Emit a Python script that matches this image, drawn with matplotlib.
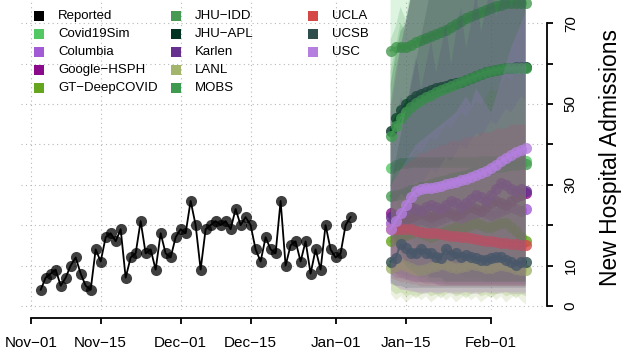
import datetime as dt
import matplotlib
matplotlib.use("Agg")
import matplotlib.pyplot as plt
import matplotlib.dates as mdates
from matplotlib.lines import Line2D

plt.rcParams['font.family'] = ['Liberation Sans', 'DejaVu Sans']

#---------------------------------------------------------------- DATA

# reported daily admissions, Nov-03 .. Jan-04
reported = [4, 7, 8, 9, 5, 7, 10, 12, 8, 5, 4, 14, 11, 17, 18, 16, 19, 7, 12, 13,
            21, 13, 14, 9, 18, 13, 12, 17, 19, 18, 26, 20, 9, 19, 20, 21, 20, 21,
            19, 24, 20, 22, 20, 14, 11, 17, 14, 13, 26, 10, 15, 16, 11, 16, 8, 14,
            9, 20, 14, 12, 13, 20, 22]
reported_start = dt.date(2020, 11, 3)
forecast_start = dt.date(2021, 1, 12)

# forecasts (median, lower, upper), 28 days from Jan-12
covid19sim_med = [34.1, 35, 35.4, 35.5, 35.6, 35.6, 35.6, 35.6, 35.6, 35.6, 35.6, 35.7, 35.7, 35.7,
                  35.7, 35.7, 35.7, 35.7, 35.8, 35.8, 35.8, 35.8, 35.8, 35.8, 35.8, 35.8, 35.8, 35.8]
covid19sim_lo = [9, 8, 8, 7, 7, 7, 6, 6, 6, 6, 6, 5, 5, 5,
                 5, 5, 5, 5, 5, 5, 5, 5, 5, 5, 5, 5, 5, 5]
covid19sim_hi = [88, 90, 92, 93, 94, 95, 96, 97, 98, 99, 100, 100, 101, 101,
                 102, 102, 103, 103, 104, 104, 105, 105, 106, 106, 107, 107, 108, 108]

columbia_med = [20.5, 20, 19.5, 20, 20.5, 21, 21.5, 21, 20.5, 21, 21.5, 22, 22.5, 22,
                21.5, 22, 22.5, 23, 23.5, 23, 22.5, 23, 23.5, 24, 24.5, 24, 23.5, 24]
columbia_lo = [6, 5, 4, 4, 3.5, 3.5, 3, 3, 3.5, 3, 3, 3.5, 3, 3,
               3, 3.5, 3, 3, 3, 3.5, 3, 3, 3, 3.5, 3, 3, 3, 3]
columbia_hi = [48, 56, 64, 70, 76, 82, 88, 90, 92, 94, 96, 98, 100, 102,
               104, 106, 108, 110, 112, 114, 116, 118, 120, 122, 124, 126, 128, 130]

google_med = [23, 22.5, 22, 21.5, 22, 22.5, 23, 22.5, 22, 22.5, 23, 23.5, 23, 22.5,
              23, 24, 24.5, 24, 23.5, 24.5, 25.5, 26, 25.5, 25, 26, 27, 27.5, 28]
google_lo = [9, 8, 7, 7, 6, 6, 6, 5.5, 5.5, 5.5, 5, 5, 5, 5,
             5, 5, 5, 5, 5, 5, 5, 5, 5, 5, 5, 5, 5, 5]
google_hi = [50, 58, 64, 70, 76, 82, 86, 90, 92, 94, 96, 98, 100, 102,
             104, 106, 108, 110, 112, 114, 116, 118, 120, 122, 124, 126, 128, 130]

gt_med = [16, 16.5, 17, 17.5, 18, 18.5, 18, 17.5, 17, 17.5, 18, 18.5, 19, 19.5,
          19, 19.5, 20, 20.5, 20, 19.5, 19.5, 20, 20.5, 20.5, 19.5, 18.5, 17, 16]
gt_lo = [4, 3, 3.5, 2.5, 3, 2, 3, 3.5, 2.5, 3, 2, 3, 3.5, 2.5,
         3, 2, 3, 3.5, 2.5, 3, 2, 3, 3.5, 2.5, 3, 2, 3, 2.5]
gt_hi = [32, 34, 36, 35, 37, 39, 38, 40, 42, 41, 43, 45, 44, 46,
         48, 47, 49, 51, 50, 52, 54, 53, 55, 57, 56, 58, 60, 59]

jhuidd_med = [63.2, 64, 64.2, 64.2, 64.5, 65.3, 65.9, 66.4, 66.9, 67.4, 67.9, 68.4, 69.1, 69.9,
              70.6, 71.2, 71.8, 72.3, 72.8, 73.3, 73.8, 74.3, 74.6, 75, 75, 75.1, 75.1, 75.1]
jhuidd_lo = [30, 26, 22, 19, 17, 15, 13, 12, 11, 10, 9, 9, 8, 8,
             8, 7, 7, 7, 7, 6, 6, 6, 6, 6, 6, 6, 6, 6]
jhuidd_hi = [66, 69, 74, 71, 78, 82, 84, 87, 90, 92, 94, 96, 98, 100,
             101, 102, 103, 104, 105, 106, 107, 108, 109, 110, 111, 112, 113, 114]
jhuidd2_med = [27.2, 27.5, 27.8, 28.2, 28.6, 29, 29.4, 29.8, 30.2, 30.6, 31, 31.3, 31.6, 31.9,
               32.2, 32.5, 32.8, 33.1, 33.4, 33.7, 34, 34.3, 34.5, 34.7, 34.9, 35, 35.1, 35.2]

jhuapl_med = [43.2, 46.5, 48.5, 50, 51, 52, 52.5, 53, 53.5, 54, 54.2, 54.5, 55, 55.2,
              55.5, 56, 56.5, 57, 57.5, 58, 58.2, 58.5, 58.7, 59, 59, 59.1, 59.2, 59.2]
jhuapl_lo = [20, 16, 13, 11, 10, 9, 8, 8, 7, 7, 7, 6, 6, 6,
             6, 6, 6, 6, 6, 6, 6, 6, 6, 6, 6, 6, 6, 6]
jhuapl_hi = [55, 62, 68, 70, 76, 80, 84, 87, 90, 92, 94, 96, 98, 100,
             101, 102, 103, 104, 105, 106, 107, 108, 109, 110, 111, 112, 113, 114]

karlen_med = [22, 22.5, 23, 23.5, 24.5, 24, 23.5, 24.5, 25, 24.5, 24, 25, 26, 25.5,
              24.5, 25.5, 26.5, 27.5, 27, 26, 27.5, 29, 30.5, 30, 29, 28.5, 29, 28.5]
karlen_lo = [8, 7, 7, 6.5, 6.5, 6, 6, 6, 6, 5.5, 5.5, 5.5, 5.5, 5.5,
             5.5, 5.5, 5.5, 5.5, 5.5, 5.5, 5.5, 5.5, 5.5, 5.5, 5.5, 5.5, 5.5, 5.5]
karlen_hi = [40, 46, 52, 48, 56, 62, 54, 60, 66, 58, 64, 70, 60, 68,
             74, 64, 70, 78, 68, 74, 80, 72, 76, 82, 74, 78, 84, 80]

lanl_med = [9.5, 10, 10.5, 10, 9.5, 9, 8.8, 9.2, 9.6, 10, 10.4, 10.1, 9.7, 9.4,
            9.6, 10, 10.5, 10.2, 9.8, 9.5, 9.4, 9.8, 10.2, 10, 9.6, 9.2, 9, 9]
lanl_lo = [3, 1.5, 2.5, 1, 2, 3, 1.5, 2.5, 1, 2, 3, 1.5, 2.5, 1,
           2, 3, 1.5, 2.5, 1, 2, 3, 1.5, 2.5, 1, 2, 3, 1.5, 0.5]
lanl_hi = [24, 26, 28, 27, 29, 31, 30, 32, 34, 33, 35, 37, 36, 38,
           40, 39, 41, 43, 42, 44, 46, 45, 47, 49, 48, 50, 52, 51]

mobs_med = [42, 44.5, 46.5, 48, 49.2, 50.2, 51, 51.7, 52.3, 52.9, 53.4, 53.9, 54.4, 54.9,
            55.4, 55.9, 56.4, 56.9, 57.4, 57.8, 58.2, 58.5, 58.7, 58.9, 59, 59, 59, 59]
mobs_lo = [18, 15, 12, 10, 9, 8, 7, 7, 6, 6, 6, 6, 6, 6,
           6, 6, 6, 6, 6, 6, 6, 6, 6, 6, 6, 6, 6, 6]
mobs_hi = [58, 64, 70, 68, 76, 80, 82, 85, 88, 90, 92, 94, 96, 98,
           100, 101, 102, 103, 104, 105, 106, 107, 108, 109, 110, 111, 112, 113]

ucla_med = [19, 19, 19, 19, 19, 18.5, 18.2, 18, 18, 18, 17.8, 17.6, 17.4, 17.2,
            17.1, 17, 16.8, 16.5, 16.3, 16.1, 16, 15.8, 15.6, 15.5, 15.4, 15.3, 15.2, 15.1]
ucla_lo = [7, 6.5, 6, 6, 5.5, 5.5, 5, 5, 5, 5, 5, 5, 5, 5,
           5, 5, 5, 5, 5, 5, 5, 5, 5, 5, 5, 5, 5, 5]
ucla_hi = [30, 32, 34, 35, 36, 37, 38, 38, 39, 39, 40, 40, 41, 41,
           41, 42, 42, 42, 43, 43, 43, 44, 44, 44, 45, 45, 45, 45]

ucsb_med = [11, 11.8, 15.3, 14.3, 13, 13.2, 14.2, 13, 13, 12, 11.8, 14, 12.7, 13.2,
            12.2, 12.6, 12.2, 11.8, 11.3, 11.3, 11.8, 12.2, 12, 11.3, 10.9, 10.1, 10.9, 10.9]
ucsb_lo = [5.5, 5, 5, 4.5, 4.5, 4.5, 4.5, 4.5, 4.5, 4.5, 4.5, 4.5, 4.5, 4.5,
           4.5, 4.5, 4.5, 4.5, 4.5, 4.5, 4.5, 4.5, 4.5, 4.5, 4.5, 4.5, 4.5, 4.5]
ucsb_hi = [30, 36, 42, 48, 54, 60, 66, 72, 78, 82, 85, 88, 91, 94,
           97, 100, 102, 104, 106, 108, 110, 112, 114, 116, 118, 120, 122, 124]

usc_med = [19, 21, 23, 25, 27, 28.5, 29, 29.2, 29.3, 29.5, 29.8, 30.1, 30.4, 30.8,
           31.2, 31.5, 31.9, 32.3, 32.8, 33.5, 34.2, 35, 35.8, 36.6, 37.4, 38, 38.6, 39]
usc_lo = [6, 5, 4.5, 4, 4, 3.5, 3.5, 3.5, 3.5, 3.5, 3.5, 3.5, 3.5, 3.5,
          3.5, 3.5, 3.5, 3.5, 3.5, 3.5, 3.5, 3.5, 3.5, 3.5, 3.5, 3.5, 3.5, 3.5]
usc_hi = [30, 32, 34, 36, 38, 40, 41, 42, 43, 44, 45, 46, 47, 48,
          50, 52, 50, 54, 52, 50, 48, 52, 56, 60, 64, 67, 70, 73]

legend_names = ['Reported', 'Covid19Sim', 'Columbia', 'Google\u2212HSPH', 'GT\u2212DeepCOVID',
                'JHU\u2212IDD', 'JHU\u2212APL', 'Karlen', 'LANL', 'MOBS',
                'UCLA', 'UCSB', 'USC']
legend_colors = ['#000000', '#52C864', '#A25BD4', '#8B0A8B', '#66A51E',
                 '#479A52', '#003321', '#66308E', '#A2B56A', '#3E9A4E',
                 '#D44848', '#2E4E4E', '#B47FDF']
col = dict(zip(legend_names, legend_colors))

# drawing order = model order (interval, then median, model by model)
models = [
    ('Covid19Sim', covid19sim_med, covid19sim_lo, covid19sim_hi),
    ('Columbia', columbia_med, columbia_lo, columbia_hi),
    ('Google\u2212HSPH', google_med, google_lo, google_hi),
    ('GT\u2212DeepCOVID', gt_med, gt_lo, gt_hi),
    ('JHU\u2212IDD', jhuidd_med, jhuidd_lo, jhuidd_hi),
    ('JHU\u2212IDD', jhuidd2_med, None, None),
    ('JHU\u2212APL', jhuapl_med, jhuapl_lo, jhuapl_hi),
    ('Karlen', karlen_med, karlen_lo, karlen_hi),
    ('LANL', lanl_med, lanl_lo, lanl_hi),
    ('MOBS', mobs_med, mobs_lo, mobs_hi),
    ('UCLA', ucla_med, ucla_lo, ucla_hi),
    ('UCSB', ucsb_med, ucsb_lo, ucsb_hi),
    ('USC', usc_med, usc_lo, usc_hi),
]

tick_dates = [dt.date(2020, 11, 1), dt.date(2020, 11, 15), dt.date(2020, 12, 1),
              dt.date(2020, 12, 15), dt.date(2021, 1, 1), dt.date(2021, 1, 15),
              dt.date(2021, 2, 1)]
tick_labels = ['Nov\u221201', 'Nov\u221215', 'Dec\u221201', 'Dec\u221215',
               'Jan\u221201', 'Jan\u221215', 'Feb\u221201']
y_ticks = [0, 10, 20, 30, 40, 50, 60, 70]
y_labels = ['0', '10', '', '30', '', '50', '', '70']

#---------------------------------------------------------------- PLOT

W, H = 624, 358
fig = plt.figure(figsize=(W / 100, H / 100), dpi=100)

y_lo, y_hi = -1, 80
px_per_unit = 4.04
ax_left, ax_right, ax_bottom = 21, 543, 310
ax_h = (y_hi - y_lo) * px_per_unit
ax = fig.add_axes([ax_left / W, (H - ax_bottom) / H, (ax_right - ax_left) / W, ax_h / H])

rep_x = [reported_start + dt.timedelta(days=i) for i in range(len(reported))]
fc_x = [forecast_start + dt.timedelta(days=i) for i in range(len(usc_med))]

z = 2
for name, med, lo, hi in models:
    c = col[name]
    if lo is not None:
        ax.fill_between(fc_x, lo, hi, color=c, alpha=0.2, lw=0, zorder=z)
    ax.plot(fc_x, med, '-', color=c, lw=1.5, alpha=0.8, zorder=z + 0.1)
    ax.plot(fc_x, med, 'o', color=c, ms=8, mew=0, alpha=0.8, zorder=z + 0.2)
    z += 1

ax.plot(rep_x, reported, 'o', color='black', ms=8, mew=0, alpha=0.75, zorder=z)
ax.plot(rep_x, reported, '-', color='black', lw=1.3, zorder=z + 0.1)

x0 = mdates.date2num(dt.date(2020, 11, 1))
ax.set_xlim(x0 - 1.94, x0 + 102.5)
ax.set_ylim(y_lo, y_hi)

ax.yaxis.tick_right()
ax.set_xticks(tick_dates)
ax.set_xticklabels(tick_labels)
ax.set_yticks(y_ticks)
ax.set_yticklabels(y_labels)

ax.grid(True, linestyle=(0, (1, 3)), color='#b8b8b8', lw=0.8)
ax.set_axisbelow('line')

for s in ['top', 'left']:
    ax.spines[s].set_visible(False)
ax.spines['bottom'].set_position(('outward', 6))
ax.spines['bottom'].set_bounds(mdates.date2num(tick_dates[0]), mdates.date2num(tick_dates[-1]))
ax.spines['right'].set_position(('outward', 3))
ax.spines['right'].set_bounds(0, 70)
for s in ['bottom', 'right']:
    ax.spines[s].set_linewidth(1.3)
ax.tick_params(axis='x', length=4, width=1.3, labelsize=11, pad=9)
ax.tick_params(axis='y', length=4, width=1.3, labelsize=11, pad=8, labelrotation=90)
for lab in ax.get_yticklabels(which='both'):
    lab.set_verticalalignment('center')

fig.text(611 / W, 1 - 157 / H, 'New Hospital Admissions', rotation=90,
         ha='center', va='center', fontsize=16.5)
fig.text(22 / W, 1 + 4 / H, 'Idaho', ha='left', va='baseline',
         fontsize=23, fontweight='bold')

# legend, three columns without box
col_x = [39, 176, 313]
for i, (name, c) in enumerate(zip(legend_names, legend_colors)):
    cx = col_x[i // 5]
    cy = 16 + 18 * (i % 5)
    fig.add_artist(Line2D([cx / W], [1 - cy / H], marker='s', ms=7.5, mew=0,
                          color=c, ls='none', transform=fig.transFigure))
    fig.text((cx + 19) / W, 1 - cy / H, name, ha='left', va='center', fontsize=9.5)

fig.savefig('out.png', dpi=100)
